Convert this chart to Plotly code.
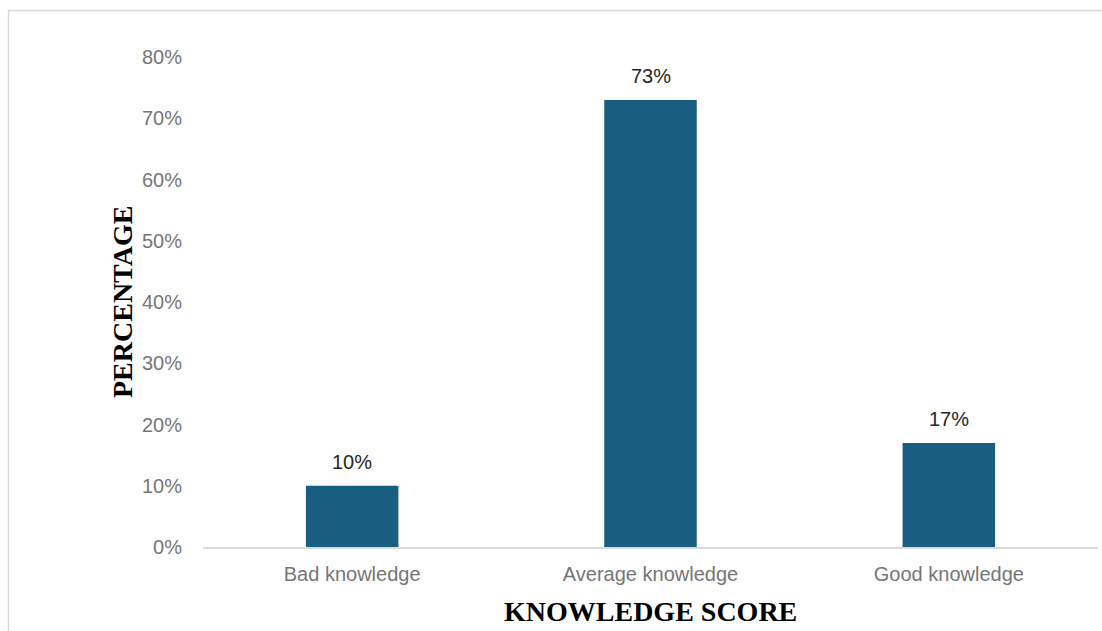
import plotly.graph_objects as go

categories = ["Bad knowledge", "Average knowledge", "Good knowledge"]
values = [0.10, 0.73, 0.17]
labels = ["10%", "73%", "17%"]
y_ticks = [0, 0.1, 0.2, 0.3, 0.4, 0.5, 0.6, 0.7, 0.8]
y_tick_text = ["0%", "10%", "20%", "30%", "40%", "50%", "60%", "70%", "80%"]

W, H = 1102, 631
L, R, T, B = 203, 4, 57, 84
pw, ph = W - L - R, H - T - B

def px(x):
    return (x - L) / pw

def py(y):
    return (H - B - y) / ph

SANS = "Liberation Sans, Arial"
SERIF = "Liberation Serif, Times New Roman"

fig = go.Figure(go.Bar(
    x=categories, y=values,
    marker=dict(color="#185E80", line=dict(width=0)),
    width=0.31,
))

annotations = [
    dict(text=t, x=c, y=v, xref="x", yref="y", xanchor="center", yanchor="bottom",
         yshift=11, showarrow=False, font=dict(family=SANS, size=20, color="#262626"))
    for c, v, t in zip(categories, values, labels)
]
annotations += [
    dict(text="<b>PERCENTAGE</b>", textangle=-90, xref="paper", yref="paper",
         x=px(122), y=py(302), xanchor="center", yanchor="middle", showarrow=False,
         font=dict(family=SERIF, size=28, color="black")),
    dict(text="<b>KNOWLEDGE SCORE</b>", xref="paper", yref="paper",
         x=px(650), y=py(611), xanchor="center", yanchor="middle", showarrow=False,
         font=dict(family=SERIF, size=28, color="black")),
]

fig.update_layout(
    width=W, height=H,
    margin=dict(l=L, r=R, t=T, b=B),
    paper_bgcolor="white", plot_bgcolor="white",
    showlegend=False,
    font=dict(family=SANS, size=20, color="#767676"),
    xaxis=dict(
        showline=True, linecolor="#d9d9d9", linewidth=1.5,
        showgrid=False, ticks="", ticklabelstandoff=8,
        tickfont=dict(family=SANS, size=20, color="#767676"),
        range=[-0.5, 2.5],
    ),
    yaxis=dict(
        range=[0, 0.8], tickvals=y_ticks, ticktext=y_tick_text,
        showgrid=False, zeroline=False, showline=False, ticks="",
        ticklabelstandoff=20,
        tickfont=dict(family=SANS, size=20, color="#767676"),
    ),
    shapes=[dict(
        type="rect", xref="paper", yref="paper",
        x0=px(8.5), x1=px(1110), y0=py(640), y1=py(10.5),
        line=dict(color="#d9d9d9", width=1.5), fillcolor="rgba(0,0,0,0)", layer="below",
    )],
    annotations=annotations,
)

fig.write_html("out.html")
